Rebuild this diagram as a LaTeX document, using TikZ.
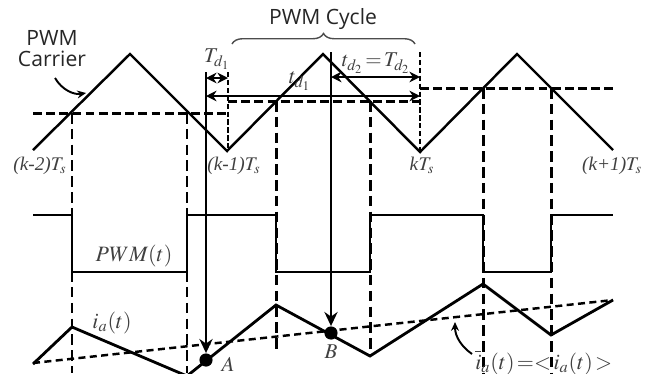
\documentclass[tikz,border=0pt]{standalone}
\usepackage{mathptmx}
\usepackage{fontspec}
\setmainfont{Liberation Serif}
\setsansfont{Open Sans}
\usetikzlibrary{arrows.meta,decorations.pathreplacing}
\tikzset{
  carrier/.style={line width=1.4pt},
  thr/.style={line width=1.7pt, dash pattern=on 5pt off 2.5pt},
  vdash/.style={line width=1.7pt, dash pattern=on 6pt off 3pt},
  finedash/.style={line width=1.6pt, dash pattern=on 3pt off 1.5pt},
  sig/.style={line width=1.6pt},
  avgline/.style={line width=1.4pt, dash pattern=on 4pt off 2.5pt},
  dimarrow/.style={line width=1.6pt, {Stealth[length=6pt,width=6pt]}-{Stealth[length=6pt,width=6pt]}},
  downarrow/.style={line width=1.5pt, -{Stealth[length=8pt,width=7.5pt]}},
  curvearrow/.style={line width=1.1pt, -{Stealth[length=5pt,width=4.5pt]}},
  lbl/.style={text=black!75, inner sep=0pt},
  sflbl/.style={text=black!85, font=\sffamily\fontsize{12}{14}\selectfont, inner sep=0pt, align=center},
  dot/.style={circle, fill=black, inner sep=0pt, minimum size=7.5pt}
}
\begin{document}
\begin{tikzpicture}[x=0.02cm,y=-0.02cm]
\useasboundingbox (0,0) rectangle (651,373);
\clip (0,0) rectangle (651,373);
% carrier
\draw[carrier] (33,150) -- (130,54) -- (227,151) -- (323,54) -- (420,152) -- (517,54) -- (613,150);
% thresholds
\draw[thr] (33,113) -- (228,113);
\draw[thr] (228,101) -- (420,101);
\draw[thr] (420,88) -- (613,88);
% fine dashed verticals at sample instants
\draw[finedash] (228,72) -- (228,151);
\draw[finedash] (420,52) -- (420,152);
% dashed verticals
\draw[vdash] (72,113) -- (72,373);
\draw[vdash] (187,113) -- (187,373);
\draw[vdash] (276,101) -- (276,350);
\draw[vdash] (370,101) -- (370,356);
\draw[vdash] (483,88) -- (483,373);
\draw[vdash] (551,88) -- (551,373);
% PWM signal
\draw[sig] (33,215) -- (72,215) -- (72,272) -- (187,272) -- (187,215) -- (276,215) -- (276,272) -- (370,272) -- (370,215) -- (483,215) -- (483,272) -- (551,272) -- (551,215) -- (613,215);
% current
\draw[sig] (33,364) -- (72,327) -- (187,376) -- (276,305) -- (370,356) -- (483,284) -- (551,335) -- (613,300);
% average
\draw[avgline] (33,363) -- (613,300);
% points
\node[dot] (A) at (206,360) {};
\node[dot] (B) at (331,333) {};
\coordinate (As) at (206,72);
\coordinate (Bs) at (331,52);
\draw[downarrow] (As) -- (A.north);
\draw[downarrow] (Bs) -- (B.north);
% dimension arrows
\coordinate (td1L) at (206,96);
\coordinate (td1R) at (420,96);
\coordinate (Td1L) at (206,78);
\coordinate (Td1R) at (228,78);
\coordinate (td2L) at (331,77);
\coordinate (td2R) at (420,77);
\draw[dimarrow] (Td1L) -- (Td1R);
\draw[dimarrow] (td1L) -- (td1R);
\draw[dimarrow] (td2L) -- (td2R);
% brace
\coordinate (brL) at (232,44);
\coordinate (brR) at (415,44);
\draw[line width=0.8pt, black!70, decorate, decoration={brace, amplitude=6pt}] (brL) -- (brR);
% labels
\node[sflbl] (cyc) at (323,19) {PWM Cycle};
\node[sflbl] (carr) at (52,49) {PWM\\[-2pt]Carrier};
\coordinate (ca1) at (55,78);
\coordinate (ca2) at (86,93);
\draw[curvearrow] (ca1) .. controls (62,90) and (74,95) .. (ca2);
\node[lbl, font=\fontsize{12}{13}\selectfont] (Td1) at (217,59) {$T_{d_1}$};
\node[lbl, font=\fontsize{12.5}{14}\selectfont] (td1) at (300,81) {$t_{d_1}$};
\node[lbl, font=\fontsize{12}{13}\selectfont] (td2) at (376,63) {$t_{d_2}\!=\!T_{d_2}$};
\node[lbl, font=\fontsize{11}{13}\selectfont] (km2) at (40,166) {\textit{(k-2)}$T_s$};
\node[lbl, font=\fontsize{11}{13}\selectfont] (km1) at (234,166) {\textit{(k-1)}$T_s$};
\node[lbl, font=\fontsize{11}{13}\selectfont] (k0) at (422,165) {\textit{k}$T_s$};
\node[lbl, font=\fontsize{11}{13}\selectfont] (kp1) at (612,166) {\textit{(k+1)}$T_s$};
\node[lbl, font=\fontsize{12.5}{14}\selectfont] (pwm) at (134,256) {$PWM(t)$};
\node[lbl, font=\fontsize{12.5}{14}\selectfont] (ia) at (112,323) {$i_a(t)$};
\node[lbl, font=\fontsize{12}{14}\selectfont] (Al) at (228,364) {$A$};
\node[lbl, font=\fontsize{12}{14}\selectfont] (Bl) at (331,352) {$B$};
\node[lbl, font=\fontsize{12.5}{14}\selectfont, anchor=base west] (avg) at (475,369) {$\overline{i}_a(t)\,{=}{<}\,i_a(t)\,{>}$};
\coordinate (aa1) at (472,354);
\coordinate (aa2) at (455,322);
\draw[curvearrow] (aa1) .. controls (462,347) and (455,337) .. (aa2);
\end{tikzpicture}
\end{document}
